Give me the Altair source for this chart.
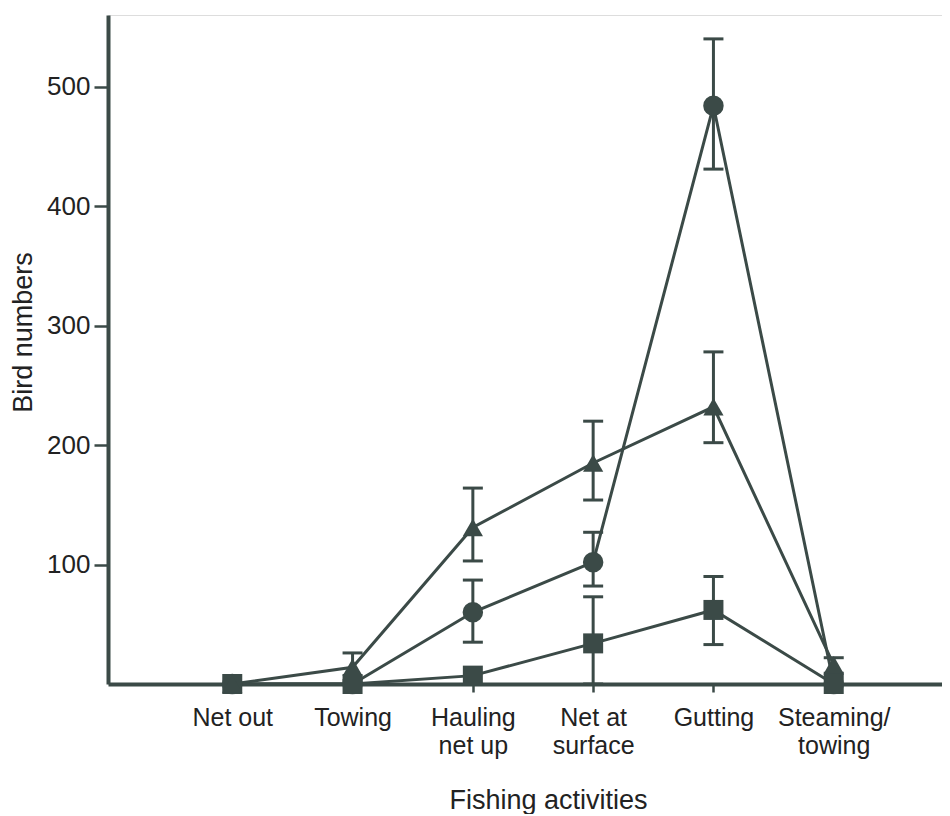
import altair as alt
import pandas as pd

categories = ["Net out", "Towing", "Hauling\nnet up", "Net at\nsurface", "Gutting", "Steaming/\ntowing"]
series_names = ["circle", "triangle-up", "square"]

circle_mean = [0, 0, 60, 102, 484, 0]
circle_lo = [None, None, 35, 82, 431, None]
circle_hi = [None, None, 87, 127, 540, None]

triangle_mean = [0, 14, 131, 185, 232, 16]
triangle_lo = [None, 3, 103, 154, 202, 9]
triangle_hi = [None, 26, 164, 220, 278, 22]

square_mean = [0, 0, 7, 34, 62, 0]
square_lo = [None, None, None, 0, 33, None]
square_hi = [None, None, None, 73, 90, None]

y_ticks = [100, 200, 300, 400, 500]

rows = []
for name, m, lo, hi in [
    ("circle", circle_mean, circle_lo, circle_hi),
    ("triangle-up", triangle_mean, triangle_lo, triangle_hi),
    ("square", square_mean, square_lo, square_hi),
]:
    for i, cat in enumerate(categories):
        rows.append({"idx": i, "activity": cat, "series": name,
                     "mean": m[i], "lo": lo[i], "hi": hi[i]})
df = pd.DataFrame(rows)
err = df.dropna(subset=["lo", "hi"])

ink = "#3b4a47"
txt = "#222222"
font = "Liberation Sans"

label_arr = "[" + ",".join(
    "[" + ",".join("'" + p + "'" for p in c.split("\n")) + "]" for c in categories
) + "]"

xscale = alt.Scale(domain=[-1.033, 5.9], nice=False, zero=False)
yscale = alt.Scale(domain=[0, 560], nice=False)

xaxis = alt.Axis(
    values=list(range(len(categories))),
    labelExpr=label_arr + "[datum.value]",
    title="Fishing activities",
    titleX=440, titleY=124, titleBaseline="alphabetic", titleAlign="center",
    titleFontSize=27, titleFontWeight="normal", titleFont=font, titleColor=txt,
    labelFontSize=25, labelFont=font, labelColor=txt, labelLineHeight=28,
    labelPadding=13, tickSize=8, tickWidth=2.5, tickColor=ink,
    domainWidth=4, domainColor=ink, grid=False, labelFlush=False, labelOverlap=False,
)
yaxis = alt.Axis(
    values=y_ticks,
    title="Bird numbers",
    titleX=-85, titleY=317, titleAngle=-90, titleAlign="center", titleBaseline="middle",
    titleFontSize=27, titleFontWeight="normal", titleFont=font, titleColor=txt,
    labelFontSize=26, labelFont=font, labelColor=txt, labelPadding=4,
    tickSize=14, tickWidth=2.5, tickColor=ink,
    domainWidth=4, domainColor=ink, grid=False,
)

base = alt.Chart(df)
x = alt.X("idx:Q", scale=xscale, axis=xaxis)

lines = base.mark_line(color=ink, strokeWidth=3).encode(
    x=x, y=alt.Y("mean:Q", scale=yscale, axis=yaxis), detail="series:N"
)

ebase = alt.Chart(err)
rules = ebase.mark_rule(color=ink, strokeWidth=3, opacity=1).encode(
    x=alt.X("idx:Q", scale=xscale), y=alt.Y("lo:Q", scale=yscale), y2="hi:Q"
)
cap_hi = ebase.mark_tick(color=ink, orient="horizontal", size=20, thickness=3, opacity=1).encode(
    x=alt.X("idx:Q", scale=xscale), y=alt.Y("hi:Q", scale=yscale)
)
cap_lo = ebase.mark_tick(color=ink, orient="horizontal", size=20, thickness=3, opacity=1).encode(
    x=alt.X("idx:Q", scale=xscale), y=alt.Y("lo:Q", scale=yscale)
)

pts = base.mark_point(filled=True, color=ink, opacity=1).encode(
    x=alt.X("idx:Q", scale=xscale),
    y=alt.Y("mean:Q", scale=yscale),
    shape=alt.Shape("series:N", scale=alt.Scale(domain=series_names, range=series_names), legend=None),
    size=alt.Size("series:N", scale=alt.Scale(domain=series_names, range=[420, 400, 560]), legend=None),
    order=alt.Order("series:N"),
)

chart = alt.layer(lines, rules, cap_hi, cap_lo, pts).properties(
    width=834, height=669,
    autosize=alt.AutoSizeParams(type="none"),
    padding={"left": 100, "top": 7, "right": 0, "bottom": 130},
).configure_view(stroke=None).configure(background="white")

chart.save("out.html", embed_options={"renderer": "svg", "actions": False})
